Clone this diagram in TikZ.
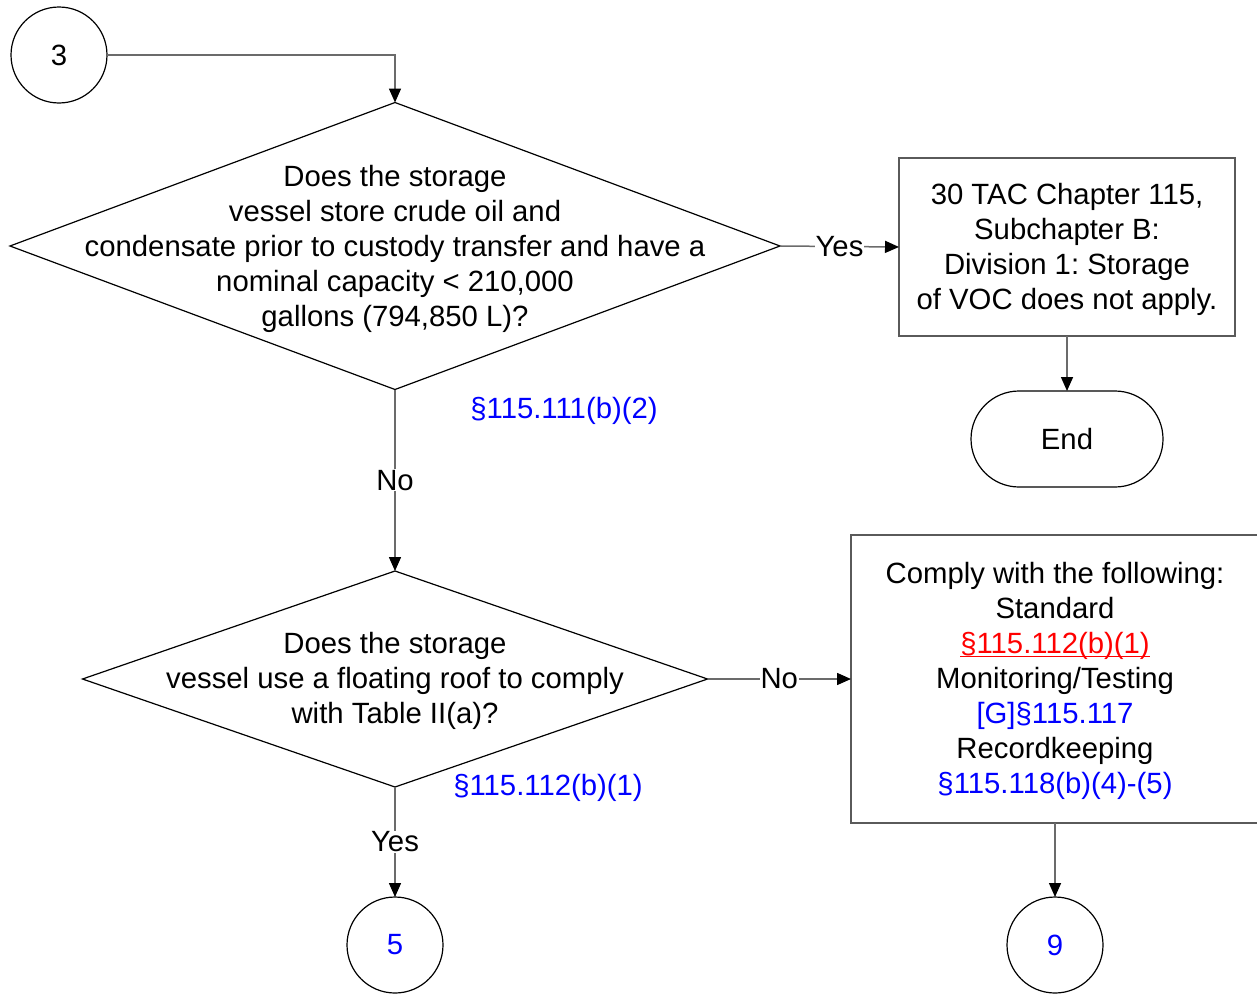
\documentclass[tikz,border=0pt]{standalone}
\usepackage{fontspec}
\setmainfont{Liberation Sans}
\usepackage{xcolor}
\usetikzlibrary{arrows.meta,shapes.geometric}
\definecolor{edge}{HTML}{6B6B6B}
\definecolor{frame}{HTML}{5A5A5A}
\definecolor{link}{HTML}{0000FF}
\definecolor{alert}{HTML}{FF0000}
\newcommand{\ulref}[1]{\setbox0\hbox{#1}\rlap{\rule[-3.5pt]{\wd0}{1.5pt}}\box0}
\frenchspacing
\tikzset{
  every node/.style={font=\fontsize{29.3}{35}\selectfont, outer sep=0pt},
  conn/.style={-{Triangle[length=14pt,width=12pt,color=black]}, line width=1.5pt, draw=edge},
  lbl/.style={fill=white, inner sep=1pt},
  decision/.style={diamond, draw=black, line width=1.2pt, inner sep=0pt, minimum width=#1},
  procbox/.style={rectangle, draw=frame, line width=1.5pt, align=center},
  term/.style={rectangle, rounded corners=48pt, draw=black, line width=1.2pt, minimum width=192pt, minimum height=96pt},
  onpage/.style={circle, draw=black, line width=1.2pt, minimum size=96pt, inner sep=0pt},
  ref/.style={text=link}
}

\begin{document}
\begin{tikzpicture}[x=1pt,y=-1pt]
  \useasboundingbox (0,0) rectangle (1257,993);
  % off-page connectors
  \node[onpage] (c3) at (59,55) {3};
  \node[onpage, text=link] (c5) at (395,945) {5};
  \node[onpage, text=link] (c9) at (1055,945) {9};
  % decisions
  \node[decision=770pt, minimum height=287pt] (q1) at (395,246) {};
  \node[align=center] (q1txt) at (395,249) {Does the storage\\vessel store crude oil and\\condensate prior to custody transfer and have a\\nominal capacity < 210,000\\gallons (794,850 L)?};
  \node[decision=625pt, minimum height=216pt] (q2) at (395,679) {};
  \node[align=center] (q2txt) at (395,681) {Does the storage\\vessel use a floating roof to comply\\with Table II(a)?};
  \node[ref] (r1) at (564,411) {§115.111(b)(2)};
  \node[ref] (r2) at (548,788) {§115.112(b)(1)};
  % outcomes
  \node[procbox, minimum width=336pt, minimum height=178pt] (na) at (1067,247) {};
  \node[align=center] (natxt) at (1067,249)
    {30 TAC Chapter 115,\\Subchapter B:\\Division 1: Storage\\of VOC does not apply.};
  \node[term] (end) at (1067,439) {End};
  \node[procbox, minimum width=408pt, minimum height=288pt] (comply) at (1055,679) {};
  \node[align=center] (complytxt) at (1055,681)
    {Comply with the following:\\Standard\\\textcolor{alert}{\ulref{§115.112(b)(1)}}\\Monitoring/Testing\\\textcolor{link}{[G]§115.117}\\Recordkeeping\\\textcolor{link}{§115.118(b)(4)-(5)}};
  % connectors
  \draw[conn] (c3.east) -| (q1.north);
  \draw[conn] (q1.east) -- (na.west) node[lbl, midway]{Yes};
  \draw[conn] (na.south) -- (end.north);
  \draw[conn] (q1.south) -- (q2.north) node[lbl, midway]{No};
  \draw[conn] (q2.east) -- (comply.west) node[lbl, midway]{No};
  \draw[conn] (q2.south) -- (c5.north) node[lbl, midway]{Yes};
  \draw[conn] (comply.south) -- (c9.north);
\end{tikzpicture}
\end{document}
